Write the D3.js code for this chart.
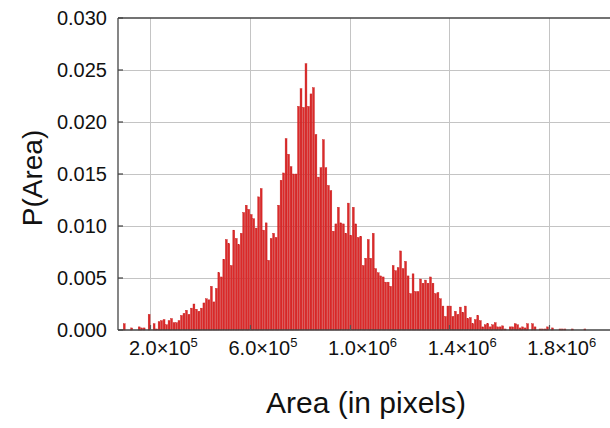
<!DOCTYPE html>
<html>
<head>
<meta charset="utf-8">
<script src="https://cdn.jsdelivr.net/npm/d3@7"></script>
<style>
  body { margin: 0; background: #fff; }
  svg { display: block; font-family: 'Liberation Sans', Arial, sans-serif; }
</style>
</head>
<body>
<svg id="chart" width="610" height="428"></svg>
<script>
// histogram bins: start of first bin and bin width (pixels of area)
const binStart = 70000
const binWidth = 10000
// P(Area) per bin
const probs = [
  0, 0, 0.0006, 0, 0, 0.0002, 0, 0, 0.0003, 0.0002, 0.0002, 0, 0.0015, 0, 0.0006, 0.0001,
  0.0008, 0.0009, 0.001, 0.0005, 0.0009, 0.0011, 0.0007, 0.0007, 0.0009, 0.0014, 0.0016, 0.0019,
  0.0015, 0.0021, 0.0025, 0.002, 0.0018, 0.0021, 0.0026, 0.003, 0.0029, 0.0042, 0.0027,
  0.004, 0.0055, 0.0051, 0.0068, 0.0087, 0.0083, 0.0062, 0.0096, 0.0088, 0.0082, 0.0093, 0.0113,
  0.012, 0.0116, 0.0111, 0.0107, 0.0098, 0.0128, 0.0136, 0.0096, 0.0103, 0.0067, 0.0088, 0.0093,
  0.0089, 0.012, 0.0144, 0.0151, 0.0184, 0.0169, 0.0157, 0.015, 0.015, 0.0215, 0.0232, 0.0214,
  0.0256, 0.0215, 0.0227, 0.0233, 0.0188, 0.0147,
  0.0156, 0.0183, 0.0156, 0.0139, 0.0134, 0.0095, 0.0102, 0.0118, 0.0103, 0.0102, 0.0093, 0.0122,
  0.0091, 0.0118, 0.0102, 0.0089, 0.009, 0.0062, 0.0069, 0.0087, 0.0069, 0.0093, 0.0059, 0.0055,
  0.0052, 0.0051, 0.0046, 0.0046, 0.0042, 0.0062, 0.0057, 0.006, 0.0076, 0.0059, 0.0066, 0.0052,
  0.0035, 0.0054, 0.0037, 0.0037,
  0.0049, 0.0045, 0.0048, 0.0045, 0.0051, 0.0045, 0.0035, 0.0036, 0.003, 0.0023, 0.0013, 0.0023,
  0.0023, 0.0013, 0.0018, 0.0015, 0.0022, 0.0017, 0.0023, 0.0011, 0.0012, 0.0006, 0.001, 0.0014,
  0.0009, 0.0003, 0.0005, 0.0006, 0.0003, 0.0005, 0.0007, 0.0003, 0.0003, 0.0004, 0.0001, 0,
  0.0003, 0.0003, 0.0006, 0.0005,
  0.0002, 0.0003, 0.0002, 0.0006, 0, 0.0006, 0.0003, 0, 0.0001, 0.0001, 0.0001, 0.0003, 0, 0.0002,
  0, 0, 0.0001, 0.0001, 0.0001, 0, 0, 0.0001, 0, 0, 0, 0, 0.0001
]
const xTicks = [200000, 600000, 1000000, 1400000, 1800000]
const xTickLabels = [['2.0', '5'], ['6.0', '5'], ['1.0', '6'], ['1.4', '6'], ['1.8', '6']]
const yTicks = [0, 0.005, 0.01, 0.015, 0.02, 0.025, 0.03]
const xTitle = 'Area (in pixels)'
const yTitle = 'P(Area)'

const svg = d3.select('#chart')
const plot = { left: 118, top: 18, right: 611, bottom: 330 }

const x = d3.scaleLinear().domain([70000, 2050000]).range([plot.left, plot.right])
const y = d3.scaleLinear().domain([0, 0.03]).range([plot.bottom, plot.top])

// grid
svg.append('g').selectAll('line.gy')
  .data(yTicks.slice(1, -1)).join('line')
  .attr('x1', plot.left).attr('x2', plot.right)
  .attr('y1', d => y(d) + 0.5).attr('y2', d => y(d) + 0.5)
  .attr('stroke', '#c4c4c4').attr('stroke-width', 1)

svg.append('g').selectAll('line.gx')
  .data(xTicks).join('line')
  .attr('x1', d => Math.round(x(d)) + 0.5).attr('x2', d => Math.round(x(d)) + 0.5)
  .attr('y1', plot.top).attr('y2', plot.bottom)
  .attr('stroke', '#c4c4c4').attr('stroke-width', 1)

// bars
const bw = x(binStart + binWidth) - x(binStart)
svg.append('g').selectAll('rect')
  .data(probs).join('rect')
  .attr('x', (d, i) => x(binStart + i * binWidth) + 0.3)
  .attr('width', bw - 0.6)
  .attr('y', d => y(d))
  .attr('height', d => y(0) - y(d))
  .attr('fill', '#db2a2a')
  .attr('stroke', '#c51a1a')
  .attr('stroke-width', 0.4)

// frame
const frame = svg.append('g').attr('stroke', '#444').attr('stroke-width', 1.3)
frame.append('line').attr('x1', plot.left).attr('x2', plot.left).attr('y1', plot.top).attr('y2', plot.bottom)
frame.append('line').attr('x1', plot.left).attr('x2', plot.right).attr('y1', plot.top).attr('y2', plot.top)
frame.append('line').attr('x1', plot.left).attr('x2', plot.right).attr('y1', plot.bottom).attr('y2', plot.bottom)

// inward ticks
svg.append('g').selectAll('line')
  .data(yTicks).join('line')
  .attr('x1', plot.left).attr('x2', plot.left + 5)
  .attr('y1', d => y(d)).attr('y2', d => y(d))
  .attr('stroke', '#444').attr('stroke-width', 1.2)
svg.append('g').selectAll('line')
  .data(xTicks).join('line')
  .attr('x1', d => Math.round(x(d)) + 0.5).attr('x2', d => Math.round(x(d)) + 0.5)
  .attr('y1', plot.bottom).attr('y2', plot.bottom - 5)
  .attr('stroke', '#555').attr('stroke-width', 1.2)

// y tick labels
svg.append('g').selectAll('text')
  .data(yTicks).join('text')
  .attr('x', 107).attr('y', d => y(d))
  .attr('dy', '0.36em')
  .attr('text-anchor', 'end')
  .attr('font-size', 20)
  .attr('fill', '#111')
  .text(d => d3.format('.3f')(d))

// x tick labels with superscript exponents
const xl = svg.append('g').selectAll('text')
  .data(xTicks).join('text')
  .attr('x', d => x(d) + 13).attr('y', 355)
  .attr('text-anchor', 'middle')
  .attr('font-size', 20)
  .attr('fill', '#111')
xl.append('tspan').text((d, i) => xTickLabels[i][0] + '\u00d710')
xl.append('tspan').attr('dy', -8).attr('font-size', 13).text((d, i) => xTickLabels[i][1])

// axis titles
svg.append('text')
  .attr('x', 366).attr('y', 413)
  .attr('text-anchor', 'middle')
  .attr('font-size', 30)
  .attr('fill', '#111')
  .text(xTitle)

svg.append('text')
  .attr('transform', 'translate(42,178) rotate(-90)')
  .attr('text-anchor', 'middle')
  .attr('font-size', 28)
  .attr('fill', '#111')
  .text(yTitle)
</script>
</body>
</html>
